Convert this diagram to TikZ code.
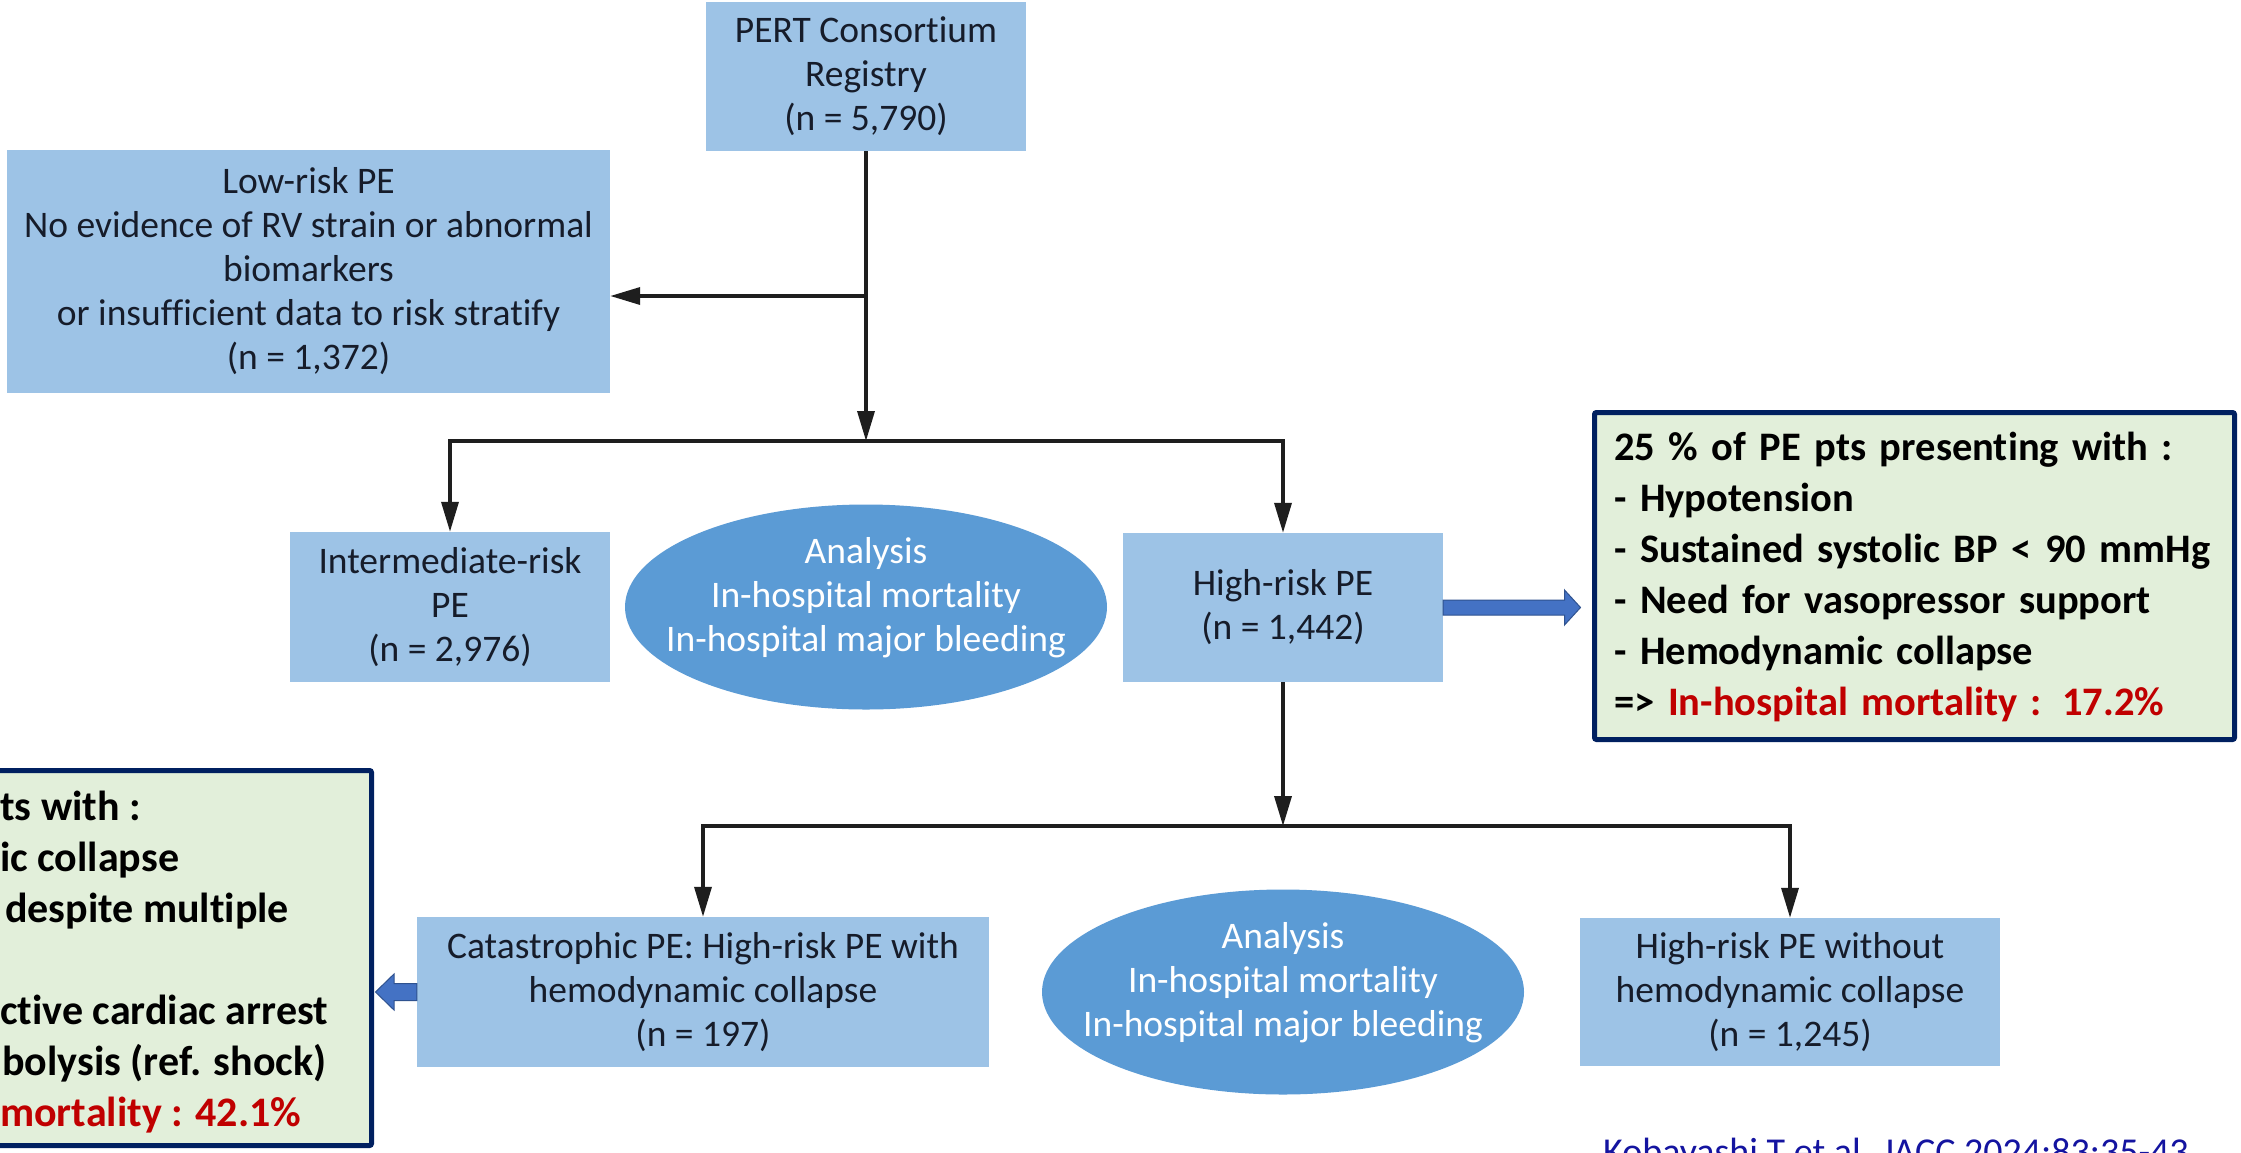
\documentclass[tikz,border=0pt]{standalone}
\usepackage{fontspec}
\setmainfont{Carlito}[Ligatures={TeX,NoCommon}]
\usetikzlibrary{arrows.meta,shapes.geometric,calc}
\definecolor{boxblue}{RGB}{157,195,230}
\definecolor{ellblue}{RGB}{91,155,213}
\definecolor{boxtext}{RGB}{22,28,42}
\definecolor{linegray}{RGB}{30,30,30}
\definecolor{gfill}{RGB}{226,239,218}
\definecolor{navy}{RGB}{0,32,96}
\definecolor{arrowblue}{RGB}{68,114,196}
\definecolor{arrowedge}{RGB}{47,82,143}
\definecolor{hred}{RGB}{192,0,0}
\definecolor{citeblue}{RGB}{20,20,160}
\begin{document}
\begin{tikzpicture}[x=1pt,y=-1pt,
  bbox/.style={fill=boxblue, draw=none, inner sep=0pt, align=center, text=boxtext, font=\fontsize{37.5}{44}\selectfont},
  ell/.style={ellipse, fill=ellblue, draw=none, minimum width=482pt, minimum height=205pt, inner sep=0pt},
  elltext/.style={align=center, text=white, inner sep=0pt, font=\fontsize{37.5}{44}\selectfont},
  conn/.style={draw=linegray, line width=3.5pt},
  arrowend/.style={-{Triangle[length=30pt,width=17pt]}},
  gbox/.style={draw=navy, fill=gfill, line width=5pt, rounded corners=2pt, inner sep=0pt},
  gtext/.style={font=\fontsize{42}{51}\selectfont\bfseries, inner sep=0pt, anchor=base west},
  rtext/.style={font=\fontsize{40.5}{51}\selectfont\bfseries, inner sep=0pt, anchor=base west},
  barrow/.style={fill=arrowblue, draw=arrowedge, line width=1pt}
]
\useasboundingbox (0,0) rectangle (2241,1152);
\fill[white] (0,0) rectangle (2241,1152);

% boxes
\node[bbox, minimum width=320pt, minimum height=149pt] (pert) at (866,76.5) {PERT Consortium\\Registry\\(n = 5,790)};
\node[bbox, minimum width=603pt, minimum height=243pt] (lr) at (308.5,271.5) {Low-risk PE\\No evidence of RV strain or abnormal\\biomarkers\\or insufficient data to risk stratify\\(n = 1,372)};
\node[bbox, minimum width=320pt, minimum height=150pt] (im) at (450,607) {Intermediate-risk\\PE\\(n = 2,976)};
\node[bbox, minimum width=320pt, minimum height=149pt] (hr) at (1283,607.5) {High-risk PE\\(n = 1,442)};
\node[bbox, minimum width=572pt, minimum height=150pt] (cat) at (703,992) {Catastrophic PE: High-risk PE with\\hemodynamic collapse\\(n = 197)};
\node[bbox, minimum width=420pt, minimum height=148pt] (hw) at (1790,992) {High-risk PE without\\hemodynamic collapse\\(n = 1,245)};

% ellipses
\node[ell] (e1) at (866,607) {};
\node[elltext] (e1t) at (866,598) {Analysis\\In-hospital mortality\\In-hospital major bleeding};
\node[ell] (e2) at (1283,992) {};
\node[elltext] (e2t) at (1283,983) {Analysis\\In-hospital mortality\\In-hospital major bleeding};

% connectors
\coordinate (j1) at (866,441);
\coordinate (jl) at (866,296);
\coordinate (j2) at (1283,826);
\draw[conn, arrowend] (pert.south) -- (j1);
\draw[conn, arrowend] (jl) -- (jl -| lr.east);
\draw[conn, arrowend] (j1) -| (im.north);
\draw[conn, arrowend] (j1) -| (hr.north);
\draw[conn, arrowend] (hr.south) -- (j2);
\draw[conn, arrowend] (j2) -| (cat.north);
\draw[conn, arrowend] (j2) -| (hw.north);

% green boxes
\node[gbox, minimum width=640pt, minimum height=327pt] (rg) at (1914.5,576) {};
\node[rtext, text width=620pt, align=left] (rgt) at (1614,460) {25 \% of PE pts presenting with :\\- Hypotension\\- Sustained systolic BP < 90 mmHg\\- Need for vasopressor support\\- Hemodynamic collapse\\=> \textcolor{hred}{In-hospital mortality : 17.2\%}};

\node[gbox, minimum width=671.5pt, minimum height=375pt] (lg) at (35.75,958) {};
\node[gtext] (l1) at (0,820) {ts with :};
\node[gtext] (l2) at (0,871) {ic collapse};
\node[gtext] (l3) at (5,922) {despite multiple};
\node[gtext] (l4) at (0,1024) {ctive cardiac arrest};
\node[gtext] (l5) at (2,1075) {bolysis (ref. shock)};
\node[gtext, text=hred] (l6) at (0,1126) {mortality : 42.1\%};

% block arrows
\coordinate (ra) at (hr.east);
\coordinate (rb) at (hr.east -| rg.west);
\draw[barrow] ($(ra)+(0,-7.5)$) -- ($(rb)+(-27.5,-7.5)$) -- ($(rb)+(-27.5,-17.5)$) -- ($(rb)+(-11.5,0)$) -- ($(rb)+(-27.5,17.5)$) -- ($(rb)+(-27.5,7.5)$) -- ($(ra)+(0,7.5)$) -- cycle;
\coordinate (la) at (cat.west);
\coordinate (lb) at (cat.west -| lg.east);
\draw[barrow] ($(la)+(0,-8.5)$) -- ($(lb)+(20,-8.5)$) -- ($(lb)+(20,-18)$) -- ($(lb)+(1.5,0)$) -- ($(lb)+(20,18)$) -- ($(lb)+(20,8.5)$) -- ($(la)+(0,8.5)$) -- cycle;

% citation
\node[anchor=base west, inner sep=0pt, text=citeblue, font=\fontsize{38}{44}\selectfont] (cite) at (1603,1164) {Kobayashi T et al. JACC 2024;83:35-43};
\end{tikzpicture}
\end{document}
